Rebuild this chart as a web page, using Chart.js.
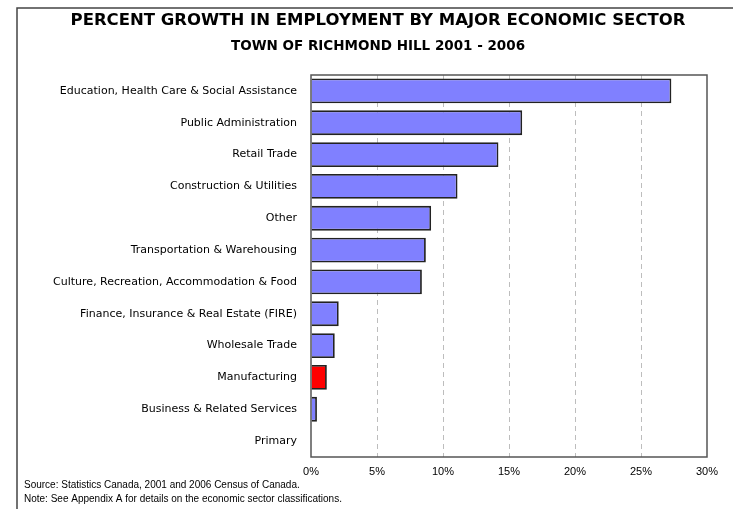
<!DOCTYPE html>
<html>
<head>
<meta charset="utf-8">
<script src="https://cdn.jsdelivr.net/npm/chart.js@4.4.1/dist/chart.umd.min.js"></script>
<style>
  html, body { margin: 0; padding: 0; background: #fff; }
  #wrap { width: 733px; height: 509px; }
</style>
</head>
<body>
<div id="wrap"><canvas id="growthChart" width="733" height="509"></canvas></div>
<script>
const sectors = [
  "Education, Health Care & Social Assistance",
  "Public Administration",
  "Retail Trade",
  "Construction & Utilities",
  "Other",
  "Transportation & Warehousing",
  "Culture, Recreation, Accommodation & Food",
  "Finance, Insurance & Real Estate (FIRE)",
  "Wholesale Trade",
  "Manufacturing",
  "Business & Related Services",
  "Primary"
];
const growth = [27.3, 16.0, 14.2, 11.1, 9.1, 8.7, 8.4, 2.1, 1.8, 1.2, 0.45, 0];
const xTicks = [0, 5, 10, 15, 20, 25, 30];

const titleLines = [
  "PERCENT GROWTH IN EMPLOYMENT BY MAJOR ECONOMIC SECTOR",
  "TOWN OF RICHMOND HILL 2001 - 2006"
];
const notes = [
  "Source: Statistics Canada, 2001 and 2006 Census of Canada.",
  "Note: See Appendix A for details on the economic sector classifications."
];

const barColors = sectors.map(s => s === "Manufacturing" ? "#ff0000" : "#8080ff");

// frame, titles, plot border and footnotes
const decor = {
  id: "decor",
  beforeDraw(chart) {
    const ctx = chart.ctx;
    ctx.save();
    ctx.strokeStyle = "#444";
    ctx.lineWidth = 1.5;
    ctx.beginPath();
    ctx.moveTo(17, 520);
    ctx.lineTo(17, 8);
    ctx.lineTo(740, 8);
    ctx.stroke();
    ctx.restore();
  },
  afterDraw(chart) {
    const ctx = chart.ctx;
    const a = chart.chartArea;
    ctx.save();
    ctx.strokeStyle = "#555";
    ctx.lineWidth = 1.5;
    ctx.strokeRect(a.left, a.top, a.right - a.left, a.bottom - a.top);

    ctx.fillStyle = "#000";
    ctx.textAlign = "center";
    ctx.textBaseline = "middle";
    ctx.font = "bold 16.5px 'DejaVu Sans'";
    ctx.fillText(titleLines[0], 378, 21);
    ctx.font = "bold 13.5px 'DejaVu Sans'";
    ctx.fillText(titleLines[1], 378, 46);

    ctx.textAlign = "left";
    ctx.font = "10px 'Liberation Sans'";
    ctx.fillText(notes[0], 24, 485);
    ctx.fillText(notes[1], 24, 499);
    ctx.restore();
  }
};

new Chart(document.getElementById("growthChart"), {
  type: "bar",
  data: {
    labels: sectors,
    datasets: [{
      data: growth,
      backgroundColor: barColors,
      borderColor: "#222",
      borderWidth: 1.8,
      categoryPercentage: 1,
      barPercentage: 0.78
    }]
  },
  options: {
    indexAxis: "y",
    responsive: false,
    animation: false,
    layout: { padding: { top: 75, left: 0, right: 26, bottom: 30 } },
    plugins: {
      legend: { display: false },
      title: { display: false },
      tooltip: { enabled: false }
    },
    scales: {
      x: {
        min: 0,
        max: 30,
        afterBuildTicks(scale) { scale.ticks = xTicks.map(v => ({ value: v })); },
        afterFit(scale) { scale.height = 22; },
        grid: {
          color: ctx => (ctx.tick && (ctx.tick.value === 0 || ctx.tick.value === 30)) ? "rgba(0,0,0,0)" : "#bdbdbd",
          lineWidth: 1,
          drawTicks: false
        },
        border: { display: false, dash: [5, 4] },
        ticks: {
          color: "#000",
          font: { family: "'Liberation Sans'", size: 11 },
          padding: 8,
          maxRotation: 0,
          callback: v => v + "%"
        }
      },
      y: {
        afterFit(scale) { scale.width = 311; },
        grid: { display: false, drawTicks: false },
        border: { display: false },
        ticks: {
          color: "#000",
          font: { family: "'DejaVu Sans'", size: 11 },
          padding: 14
        }
      }
    }
  },
  plugins: [decor]
});
</script>
</body>
</html>
